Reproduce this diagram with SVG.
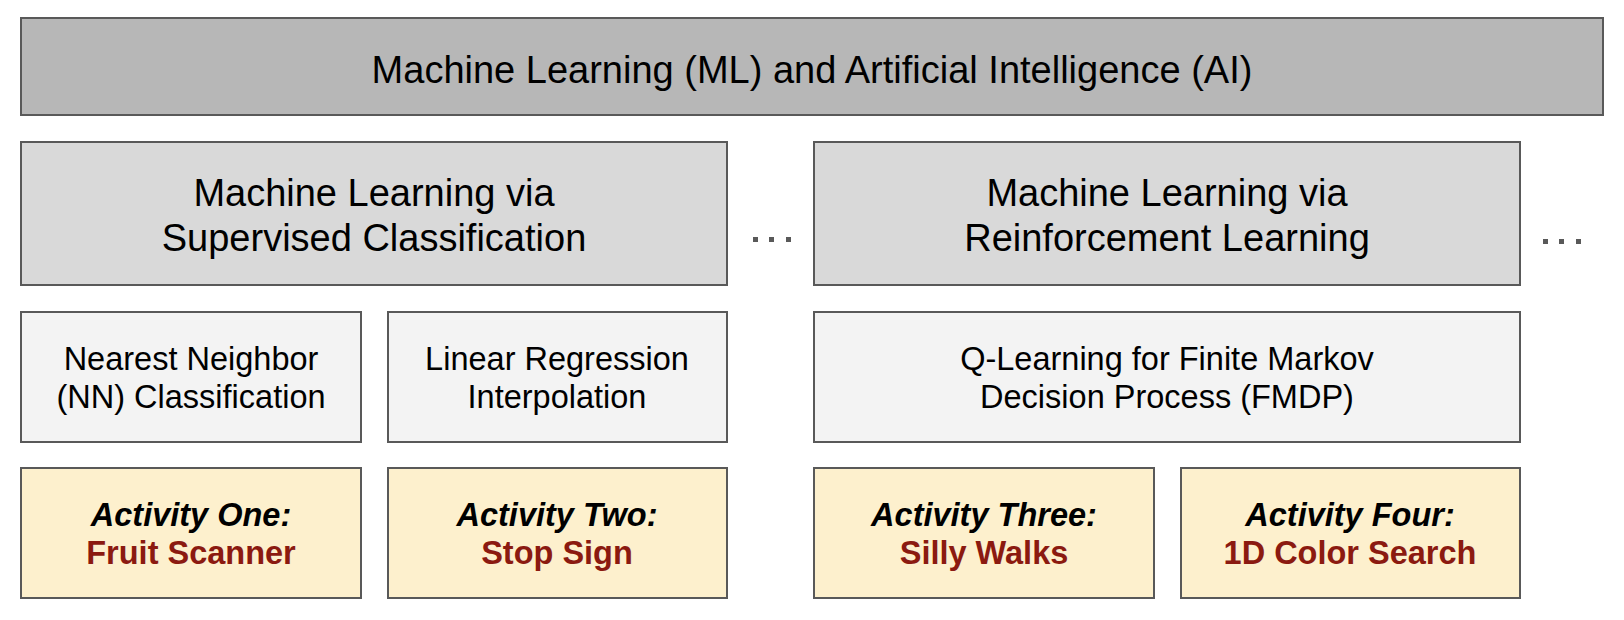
<svg xmlns="http://www.w3.org/2000/svg" width="1624" height="620" viewBox="0 0 1624 620">
<style>
.box{stroke:#595959;stroke-width:2}
.t{font-family:"Liberation Sans",Arial,sans-serif;fill:#000;text-anchor:middle}
.l1{fill:#b7b7b7}.l2{fill:#d9d9d9}.l3{fill:#f3f3f3}.l4{fill:#fdf0cd}
.big{font-size:38px}.mid{font-size:38px}.sm{font-size:32.5px}
.act{font-size:32.5px;font-weight:bold;font-style:italic}
.name{font-size:32.5px;font-weight:bold;fill:#8b1a10}
.dot{fill:#595959}
</style>
<g id="ml-ai"><rect class="box l1" x="21" y="18" width="1582" height="97"/><text class="t big" x="812" y="83">Machine Learning (ML) and Artificial Intelligence (AI)</text></g>
<g id="supervised"><rect class="box l2" x="21" y="142" width="706" height="143"/><text class="t mid" x="374" y="206">Machine Learning via</text><text class="t mid" x="374" y="251">Supervised Classification</text></g>
<g id="reinforcement"><rect class="box l2" x="814" y="142" width="706" height="143"/><text class="t mid" x="1167" y="206">Machine Learning via</text><text class="t mid" x="1167" y="251">Reinforcement Learning</text></g>
<g id="nn"><rect class="box l3" x="21" y="312" width="340" height="130"/><text class="t sm" x="191" y="370">Nearest Neighbor</text><text class="t sm" x="191" y="408">(NN) Classification</text></g>
<g id="linreg"><rect class="box l3" x="388" y="312" width="339" height="130"/><text class="t sm" x="557" y="370">Linear Regression</text><text class="t sm" x="557" y="408">Interpolation</text></g>
<g id="qlearn"><rect class="box l3" x="814" y="312" width="706" height="130"/><text class="t sm" x="1167" y="370">Q-Learning for Finite Markov</text><text class="t sm" x="1167" y="408">Decision Process (FMDP)</text></g>
<g id="act1"><rect class="box l4" x="21" y="468" width="340" height="130"/><text class="t act" x="191" y="526">Activity One:</text><text class="t name" x="191" y="564">Fruit Scanner</text></g>
<g id="act2"><rect class="box l4" x="388" y="468" width="339" height="130"/><text class="t act" x="557" y="526">Activity Two:</text><text class="t name" x="557" y="564">Stop Sign</text></g>
<g id="act3"><rect class="box l4" x="814" y="468" width="340" height="130"/><text class="t act" x="984" y="526">Activity Three:</text><text class="t name" x="984" y="564">Silly Walks</text></g>
<g id="act4"><rect class="box l4" x="1181" y="468" width="339" height="130"/><text class="t act" x="1350" y="526">Activity Four:</text><text class="t name" x="1350" y="564">1D Color Search</text></g>
<g id="connectors">
<rect class="dot" x="753" y="237" width="5" height="5"/><rect class="dot" x="769" y="237" width="5" height="5"/><rect class="dot" x="786" y="237" width="5" height="5"/>
<rect class="dot" x="1543" y="239" width="5" height="5"/><rect class="dot" x="1559" y="239" width="5" height="5"/><rect class="dot" x="1576" y="239" width="5" height="5"/>
</g>
</svg>
